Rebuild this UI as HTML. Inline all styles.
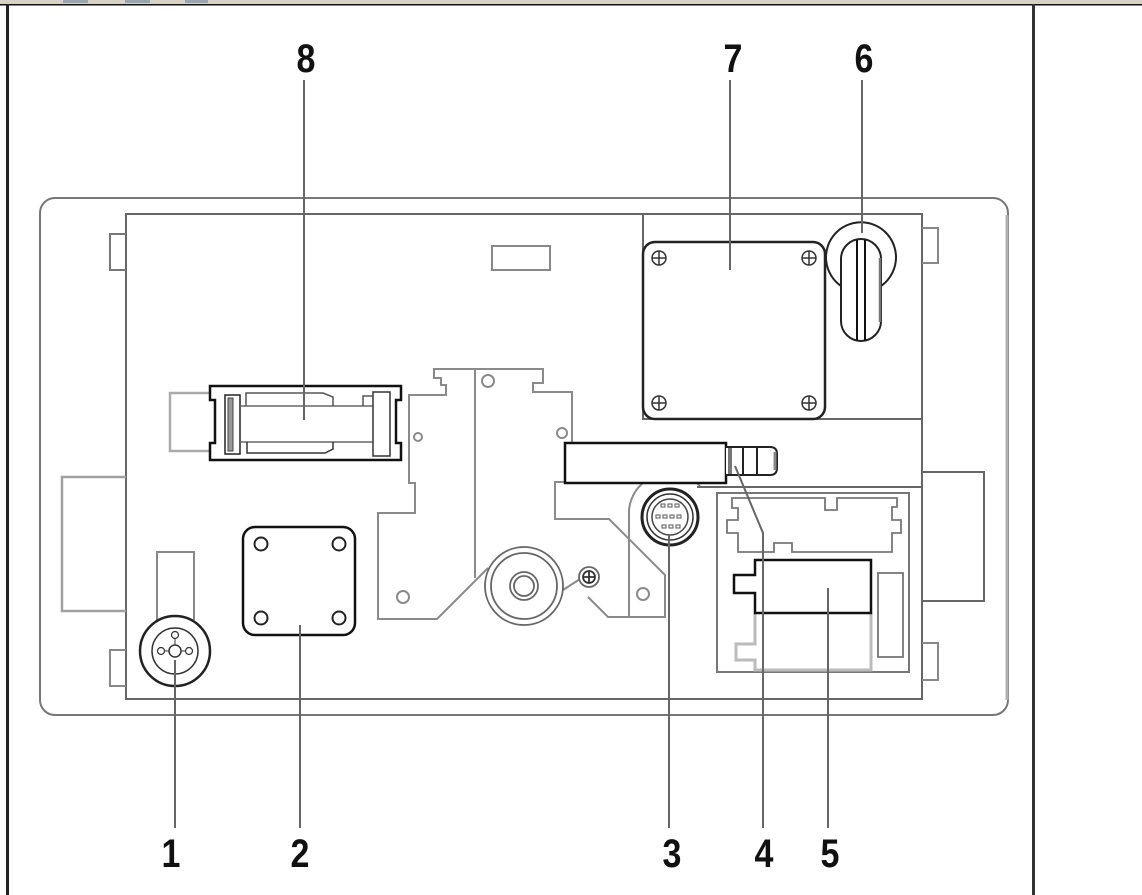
<!DOCTYPE html>
<html>
<head>
<meta charset="utf-8">
<style>
html,body{margin:0;padding:0;background:#fff;}
svg{display:block;}
text{font-family:"Liberation Sans",Arial,sans-serif;font-weight:bold;fill:#111;}
</style>
</head>
<body>
<svg width="1142" height="895" viewBox="0 0 1142 895" xmlns="http://www.w3.org/2000/svg">
<rect x="0" y="0" width="1142" height="895" fill="#fff"/>
<!-- top strip -->
<rect x="0" y="0" width="1142" height="4" fill="#d6d3c6"/>
<rect x="63" y="0" width="25" height="3" fill="#9aa4ac"/>
<rect x="125" y="0" width="25" height="3" fill="#9aa4ac"/>
<rect x="185" y="0" width="23" height="3" fill="#9aa4ac"/>
<rect x="0" y="4" width="1142" height="1.5" fill="#111"/>
<!-- frame verticals -->
<rect x="6" y="4" width="3" height="891" fill="#222"/>
<rect x="1032" y="4" width="3" height="891" fill="#333"/>

<g fill="none" stroke-linejoin="miter">
<!-- outer housing -->
<rect x="40" y="198" width="968" height="517" rx="15" stroke="#777" stroke-width="2"/>
<path d="M1007,215 V700" stroke="#b0b0b0" stroke-width="3"/>
<!-- inner panel -->
<rect x="126" y="214" width="796" height="485" stroke="#666" stroke-width="2"/>
<!-- tabs -->
<path d="M126,234 H110 V270 H126" stroke="#777" stroke-width="2"/>
<path d="M126,650 H110 V686 H126" stroke="#888" stroke-width="2"/>
<path d="M922,228 H938 V263 H922" stroke="#888" stroke-width="2"/>
<path d="M922,643 H938 V680 H922" stroke="#888" stroke-width="2"/>
<!-- side blocks -->
<path d="M126,477 H62 V611 H126" stroke="#a0a0a0" stroke-width="2.5"/>
<path d="M922,472 H984 V601 H922" stroke="#666" stroke-width="2"/>
<!-- small top rect -->
<rect x="492" y="246" width="58" height="24" stroke="#888" stroke-width="2"/>

<!-- item 7 region -->
<path d="M643,214 V419 H922" stroke="#666" stroke-width="2"/>
<rect x="643" y="242" width="182" height="177" rx="12" stroke="#222" stroke-width="2.5" fill="#fff"/>
<g stroke="#333" stroke-width="1.5">
<circle cx="659" cy="258" r="7"/><path d="M652,258 H666 M659,251 V265"/>
<circle cx="809" cy="258" r="7"/><path d="M802,258 H816 M809,251 V265"/>
<circle cx="659" cy="403" r="7"/><path d="M652,403 H666 M659,396 V410"/>
<circle cx="809" cy="403" r="7"/><path d="M802,403 H816 M809,396 V410"/>
</g>

<!-- item 6 -->
<path d="M841,286 A35,35 0 1 1 881,286" stroke="#222" stroke-width="2"/>
<rect x="841" y="239" width="40" height="102" rx="20" stroke="#222" stroke-width="2" fill="#fff"/>
<path d="M880,258 V322" stroke="#777" stroke-width="2.5"/>
<path d="M857,240 V340 M865,240 V340" stroke="#111" stroke-width="2"/>

<!-- item 8 -->
<path d="M210,393 H170 V451 H210" stroke="#aaa" stroke-width="2.5"/>
<path d="M210,386 H401 V400 H396 V443 H401 V460 H210 V443 H215 V400 H210 Z" stroke="#111" stroke-width="2.5" fill="#fff"/>
<rect x="225" y="395" width="15" height="59" stroke="#222" stroke-width="1.5"/>
<rect x="228" y="398" width="5" height="53" fill="#999" stroke="#444" stroke-width="1"/>
<path d="M240,406 H373 M240,442 H373" stroke="#666" stroke-width="1.5"/>
<path d="M246,406 V393 H323 L333,397 V406" stroke="#555" stroke-width="1.5"/>
<path d="M247,442 V453 H325 L333,449 V442" stroke="#333" stroke-width="1.5"/>
<rect x="373" y="392" width="17" height="64" stroke="#333" stroke-width="1.5"/>
<path d="M363,406 V396 H373" stroke="#555" stroke-width="1.5"/>

<!-- central bracket -->
<g stroke="#8a8a8a" stroke-width="2">
<path d="M488,568 L437,619 H378 V513 H415 V483 H409 V395 H446 V385 H441 V378 H434 V369 H543 V383 H533 V392 H572 V443"/>
<path d="M475,369 V578"/>
<path d="M565,482 H555 V519 H609 L665,575 V617 H608 L588,597"/>
<path d="M563,590 L580,579"/>
<path d="M629,617 V510 A41,41 0 0 1 700,486"/>
<path d="M697,487 H922" stroke="#666"/>
<circle cx="488" cy="381" r="6"/>
<circle cx="418" cy="437" r="4"/>
<circle cx="562" cy="433" r="5"/>
<circle cx="403" cy="597" r="6"/>
<circle cx="643" cy="594" r="6"/>
</g>
<!-- wheel -->
<g stroke="#666" stroke-width="1.8">
<circle cx="524" cy="586" r="39" fill="#fff"/>
<circle cx="524" cy="586" r="33"/>
<circle cx="524" cy="586" r="14"/>
<circle cx="524" cy="586" r="10"/>
<circle cx="589" cy="577" r="10" fill="#fff"/>
<circle cx="589" cy="577" r="6" stroke="#333"/>
<path d="M583,577 H595 M589,571 V583" stroke="#333"/>
</g>

<!-- item 4 bar -->
<rect x="565" y="443" width="161" height="40" stroke="#111" stroke-width="2.5" fill="#fff"/>
<path d="M726,447 H770 Q777,447 777,454 V468 Q777,475 770,475 H726" stroke="#222" stroke-width="2" fill="#fff"/>
<path d="M730,448 V474" stroke="#777" stroke-width="4"/>
<path d="M743,447 V475 M757,447 V475" stroke="#222" stroke-width="2"/>
<path d="M775,452 V470" stroke="#888" stroke-width="3"/>

<!-- item 3 connector -->
<circle cx="670" cy="517" r="28" stroke="#222" stroke-width="3" fill="#fff"/>
<circle cx="670" cy="517" r="23" stroke="#333" stroke-width="1.5"/>
<circle cx="670" cy="517" r="18" stroke="#444" stroke-width="1.5"/>
<g stroke="#555" stroke-width="1">
<rect x="661" y="504" width="4" height="3"/><rect x="668" y="504" width="4" height="3"/><rect x="675" y="504" width="4" height="3"/>
<rect x="656" y="515" width="4" height="3"/><rect x="663" y="515" width="4" height="3"/><rect x="670" y="515" width="4" height="3"/><rect x="677" y="515" width="4" height="3"/>
<rect x="662" y="525" width="4" height="3"/><rect x="669" y="525" width="4" height="3"/><rect x="676" y="525" width="4" height="3"/>
</g>

<!-- item 5 region -->
<rect x="717" y="493" width="192" height="179" stroke="#777" stroke-width="2"/>
<path d="M732,498 H825 V510 H837 V498 H897 V507 H892 V520 H901 V533 H892 V552 H792 V543 H774 V552 H738 V533 H727 V520 H738 V508 H732 Z" stroke="#777" stroke-width="1.8"/>
<path d="M755,613 V644 H736 V660 H755 V670 H871 V613" stroke="#bbb" stroke-width="3"/>
<path d="M755,560 H871 V613 H755 V593 H734 V575 H755 Z" stroke="#111" stroke-width="2.5" fill="#fff"/>
<rect x="878" y="573" width="25" height="84" stroke="#777" stroke-width="1.8"/>

<!-- item 1 -->
<path d="M157,620 V552 H194 V620" stroke="#888" stroke-width="2"/>
<circle cx="175" cy="651" r="35" stroke="#222" stroke-width="2.5" fill="#fff"/>
<circle cx="175" cy="651" r="23" stroke="#333" stroke-width="1.5"/>
<circle cx="175" cy="651" r="6" stroke="#333" stroke-width="1.5"/>
<circle cx="161" cy="651" r="3.5" stroke="#333" stroke-width="1.2"/>
<circle cx="189" cy="651" r="3.5" stroke="#333" stroke-width="1.2"/>
<circle cx="175" cy="635" r="3.5" stroke="#333" stroke-width="1.2"/>
<path d="M175,638.5 V645 M164.5,651 H169 M181,651 H185.5" stroke="#333" stroke-width="1"/>

<!-- item 2 -->
<rect x="243" y="527" width="112" height="108" rx="12" stroke="#111" stroke-width="2.5" fill="#fff"/>
<g stroke="#222" stroke-width="2">
<circle cx="261" cy="544" r="6.5"/><circle cx="339" cy="544" r="6.5"/>
<circle cx="261" cy="618" r="6.5"/><circle cx="339" cy="618" r="6.5"/>
</g>

<!-- leader lines -->
<g stroke="#666" stroke-width="2">
<path d="M304,80 V420"/>
<path d="M730,80 V270"/>
<path d="M862,80 V233"/>
<path d="M175,660 V828"/>
<path d="M300,625 V828"/>
<path d="M669,535 V828"/>
<path d="M735,466 L763,533 V828"/>
<path d="M828,588 V828"/>
</g>
</g>

<!-- labels -->
<g font-size="40" text-anchor="middle">
<text transform="translate(306,72) scale(0.85,1)">8</text>
<text transform="translate(733,72) scale(0.85,1)">7</text>
<text transform="translate(864,72) scale(0.85,1)">6</text>
<text transform="translate(171,867) scale(0.85,1)">1</text>
<text transform="translate(300,867) scale(0.85,1)">2</text>
<text transform="translate(672,867) scale(0.85,1)">3</text>
<text transform="translate(764,867) scale(0.85,1)">4</text>
<text transform="translate(830,867) scale(0.85,1)">5</text>
</g>
</svg>
</body>
</html>
